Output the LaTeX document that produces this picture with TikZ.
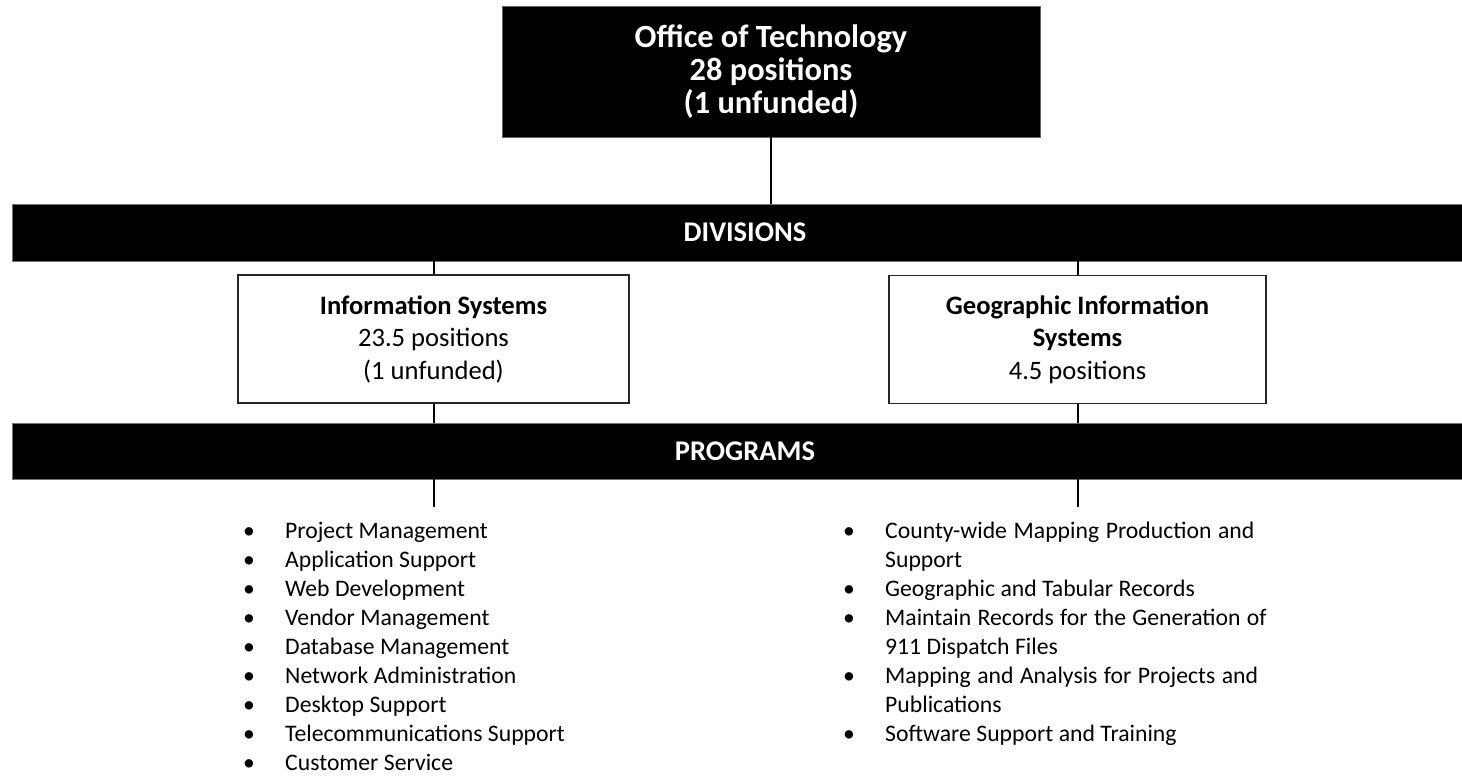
\documentclass[tikz,border=0pt]{standalone}
\usepackage{fontspec}
\setmainfont{Carlito}

\newcommand\progitem[1]{\par\parfillskip=0pt plus 1fil\spaceskip=0.23em plus 0.05em\relax
  \hangindent=42pt\hangafter=1\noindent\makebox[42pt][l]{\textbullet}#1}

\begin{document}
\begin{tikzpicture}[x=1pt,y=-1pt,
        head/.style={draw=black!60,fill=black,text=white,align=center,inner sep=0pt,
          font=\fontsize{32.4}{33}\selectfont\bfseries,minimum width=538pt,minimum height=131pt},
        bar/.style={draw=black!55,fill=black,text=white,inner sep=0pt,
          font=\fontsize{28.5}{30}\selectfont\bfseries,minimum width=1466pt,minimum height=57pt},
        division/.style={draw=black!85,line width=1.4pt,fill=white,align=center,inner sep=0pt,
          font=\fontsize{26.6}{32.5}\selectfont,minimum height=128pt},
        proglist/.style={anchor=base west,align=left,inner sep=0pt,font=\fontsize{23.7}{28.9}\selectfont},
        link/.style={line width=2pt}]

  \useasboundingbox (0,0) rectangle (1462,777);

  \node[head] (tech) at (771,71.5) {Office of Technology\\28 positions\\(1 unfunded)};
  \node[bar] (divbar) at (745,232.5) {DIVISIONS};
  \node[division,minimum width=391pt] (infosys) at (433.5,339)
    {\textbf{Information Systems}\\23.5 positions\\(1 unfunded)};
  \node[division,minimum width=377pt] (gis) at (1077.5,339.5)
    {\textbf{Geographic Information}\\\textbf{Systems}\\4.5 positions};
  \node[bar,minimum height=56pt] (progbar) at (745,451) {PROGRAMS};

  \node[proglist,text width=440pt] (islist) at (243,510) {
    \progitem{Project Management}
    \progitem{Application Support}
    \progitem{Web Development}
    \progitem{Vendor Management}
    \progitem{Database Management}
    \progitem{Network Administration}
    \progitem{Desktop Support}
    \progitem{Telecommunications Support}
    \progitem{Customer Service}};
  \node[proglist,text width=458pt] (gislist) at (843,510) {
    \progitem{County-wide Mapping Production and Support}
    \progitem{Geographic and Tabular Records}
    \progitem{Maintain Records for the Generation of 911 Dispatch Files}
    \progitem{Mapping and Analysis for Projects and Publications}
    \progitem{Software Support and Training}};

  \coordinate (isend) at (433.5,507);
  \coordinate (gisend) at (1077.5,507);

  \draw[link] (tech.south) -- (tech.south |- divbar.north);
  \draw[link] (infosys.north |- divbar.south) -- (infosys.north);
  \draw[link] (gis.north |- divbar.south) -- (gis.north);
  \draw[link] (infosys.south) -- (infosys.south |- progbar.north);
  \draw[link] (gis.south) -- (gis.south |- progbar.north);
  \draw[link] (isend |- progbar.south) -- (isend);
  \draw[link] (gisend |- progbar.south) -- (gisend);
\end{tikzpicture}
\end{document}
